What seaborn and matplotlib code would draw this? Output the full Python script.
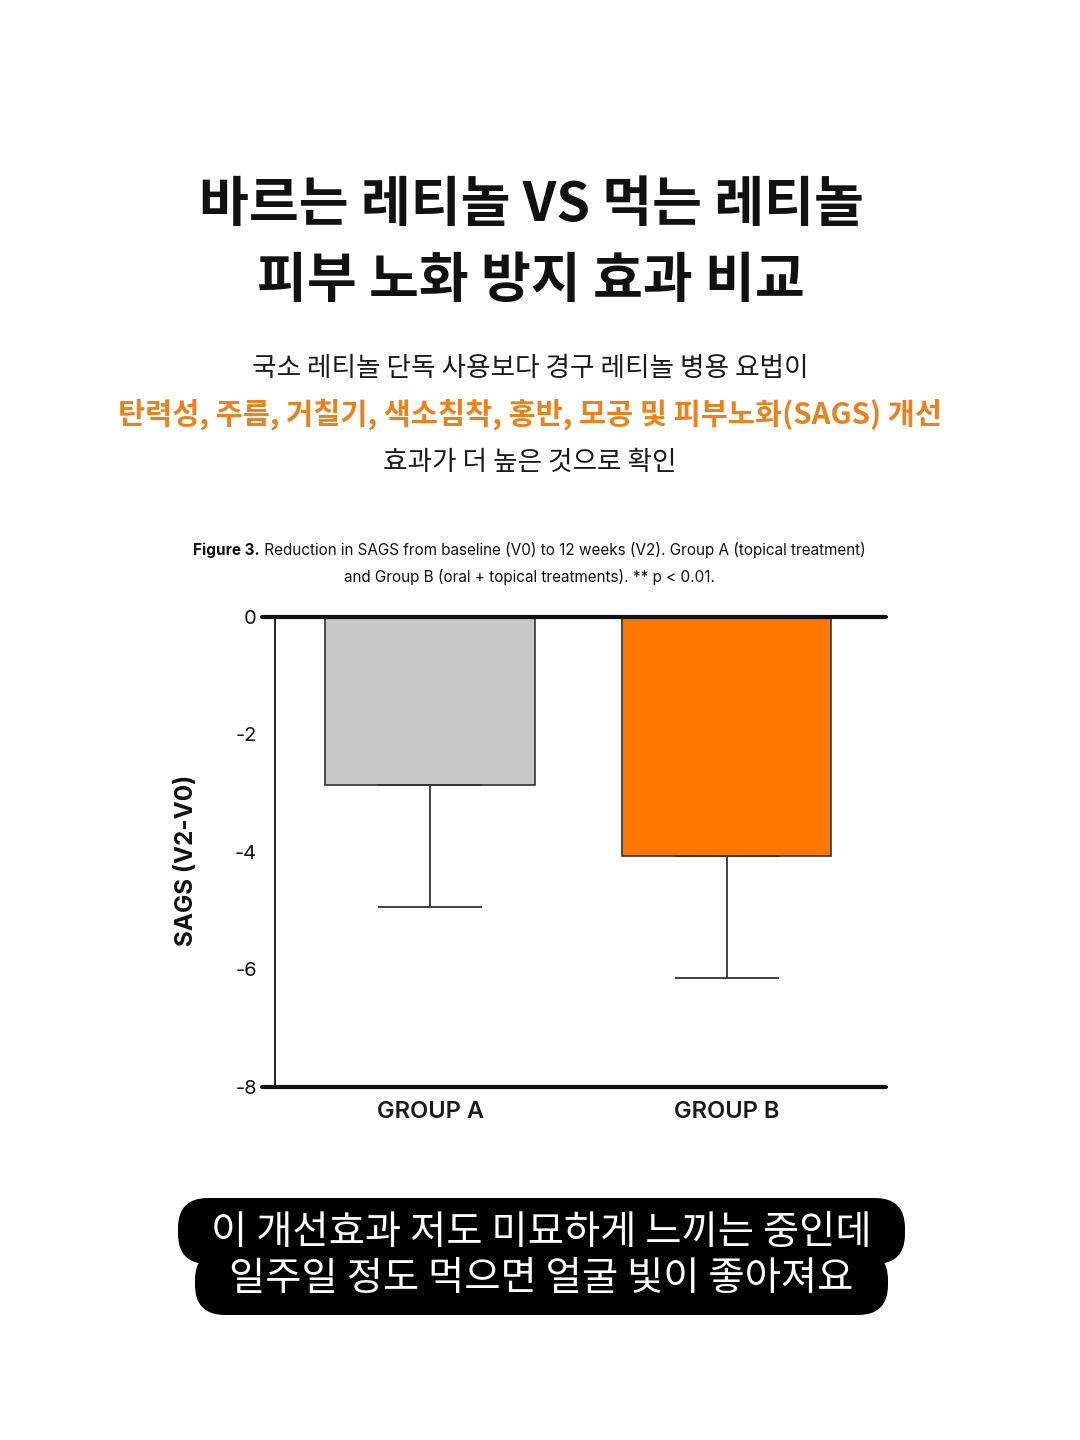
import matplotlib
matplotlib.use("Agg")
import matplotlib.pyplot as plt
from matplotlib.patches import FancyBboxPatch
import seaborn as sns
import numpy as np

# data
groups = ['GROUP A', 'GROUP B']
means = [-2.86, -4.07]
sd = [2.08, 2.07]
bar_colors = ['#c8c8c8', '#ff7600']
yticks = [0, -2, -4, -6, -8]
ytick_labels = ['0', '-2', '-4', '-6', '-8']

title_lines = ['바르는 레티놀 VS 먹는 레티놀', '피부 노화 방지 효과 비교']
sub_line1 = '국소 레티놀 단독 사용보다 경구 레티놀 병용 요법이'
sub_line2 = '탄력성, 주름, 거칠기, 색소침착, 홍반, 모공 및 피부노화(SAGS) 개선'
sub_line3 = '효과가 더 높은 것으로 확인'
cap_bold = 'Figure 3.'
cap_rest = ' Reduction in SAGS from baseline (V0) to 12 weeks (V2). Group A (topical treatment)'
cap_line2 = 'and Group B (oral + topical treatments). ** p < 0.01.'
bottom_lines = ['이 개선효과 저도 미묘하게 느끼는 중인데', '일주일 정도 먹으면 얼굴 빛이 좋아져요']

sns.set_theme(style='white')
plt.rcParams['font.family'] = ['Inter', 'Noto Sans CJK KR', 'DejaVu Sans']
KR = ['Noto Sans CJK KR', 'DejaVu Sans']

W, H = 1080, 1440
fig = plt.figure(figsize=(W / 100, H / 100), dpi=100)
fig.patch.set_facecolor('white')

def fx(px):
    return px / W

def fy(py):
    return 1 - py / H

# headline
fig.text(fx(531), fy(206), title_lines[0], family=KR, weight='bold', fontsize=39,
         ha='center', va='center', color='#111111')
fig.text(fx(531), fy(281), title_lines[1], family=KR, weight='bold', fontsize=39,
         ha='center', va='center', color='#111111')

fig.text(fx(530), fy(369), sub_line1, family=KR, fontsize=19.2, ha='center', va='center', color='#1a1a1a')
fig.text(fx(530), fy(414), sub_line2, family=KR, weight='bold', fontsize=21.2, ha='center', va='center', color='#e8821e')
fig.text(fx(530), fy(462), sub_line3, family=KR, fontsize=19.2, ha='center', va='center', color='#1a1a1a')

# figure caption
fig.text(fx(260), fy(550), cap_bold, fontsize=11, weight='bold', ha='right', va='center', color='#111111')
fig.text(fx(260), fy(550), cap_rest, fontsize=11, ha='left', va='center', color='#111111')
fig.text(fx(530), fy(577), cap_line2, fontsize=11, ha='center', va='center', color='#111111')

# chart
ax = fig.add_axes([fx(275), fy(1087), (886 - 275) / W, (1087 - 617) / H])
sns.barplot(x=groups, y=means, hue=groups, palette=bar_colors, legend=False, saturation=1,
            width=0.708, edgecolor='#333333', linewidth=1.2, ax=ax, errorbar=None)
ax.errorbar(x=np.arange(len(groups)), y=means, yerr=[sd, [0] * len(sd)], fmt='none',
            ecolor='#333333', elinewidth=1.3, capsize=37.8, capthick=1.3, zorder=5)

ax.set_ylim(-8, 0)
ax.set_xlim(-0.523, 1.538)
ax.set_yticks(yticks)
ax.set_yticklabels(ytick_labels)
ax.tick_params(axis='y', length=0, pad=13, labelsize=14.5, labelcolor='#111111')
ax.tick_params(axis='x', length=0, pad=10)
for lab in ax.get_xticklabels():
    lab.set_fontsize(17)
    lab.set_fontweight('semibold')
    lab.set_color('#1a1a1a')

for s in ['top', 'right', 'bottom']:
    ax.spines[s].set_visible(False)
ax.spines['left'].set_color('#222222')
ax.spines['left'].set_linewidth(1.4)
for yv in [yticks[0], yticks[-1]]:
    ax.axhline(yv, xmin=-13 / 611, xmax=1, color='#111111', lw=3, clip_on=False, zorder=6)

ax.set_ylabel('SAGS (V2-V0)', fontsize=17.5, weight='bold', color='#111111')
ax.yaxis.set_label_coords((198 - 275) / 611, 0.483)
ax.set_xlabel('')

# bottom speech bubble
inch = fig.dpi_scale_trans
for (x0, x1, y0, y1) in [(178, 905, 1198, 1264), (195, 888, 1250, 1315)]:
    box = FancyBboxPatch((x0 / 100, (H - y1) / 100), (x1 - x0) / 100, (y1 - y0) / 100,
                         boxstyle='round,pad=0,rounding_size=0.3', transform=inch,
                         facecolor='black', edgecolor='none')
    fig.patches.append(box)
fig.text(fx(541), fy(1233), bottom_lines[0], family=KR, weight='medium', fontsize=28.4,
         ha='center', va='center', color='white')
fig.text(fx(541), fy(1279), bottom_lines[1], family=KR, weight='medium', fontsize=28.4,
         ha='center', va='center', color='white')

fig.savefig('out.png', dpi=100, facecolor='white')
